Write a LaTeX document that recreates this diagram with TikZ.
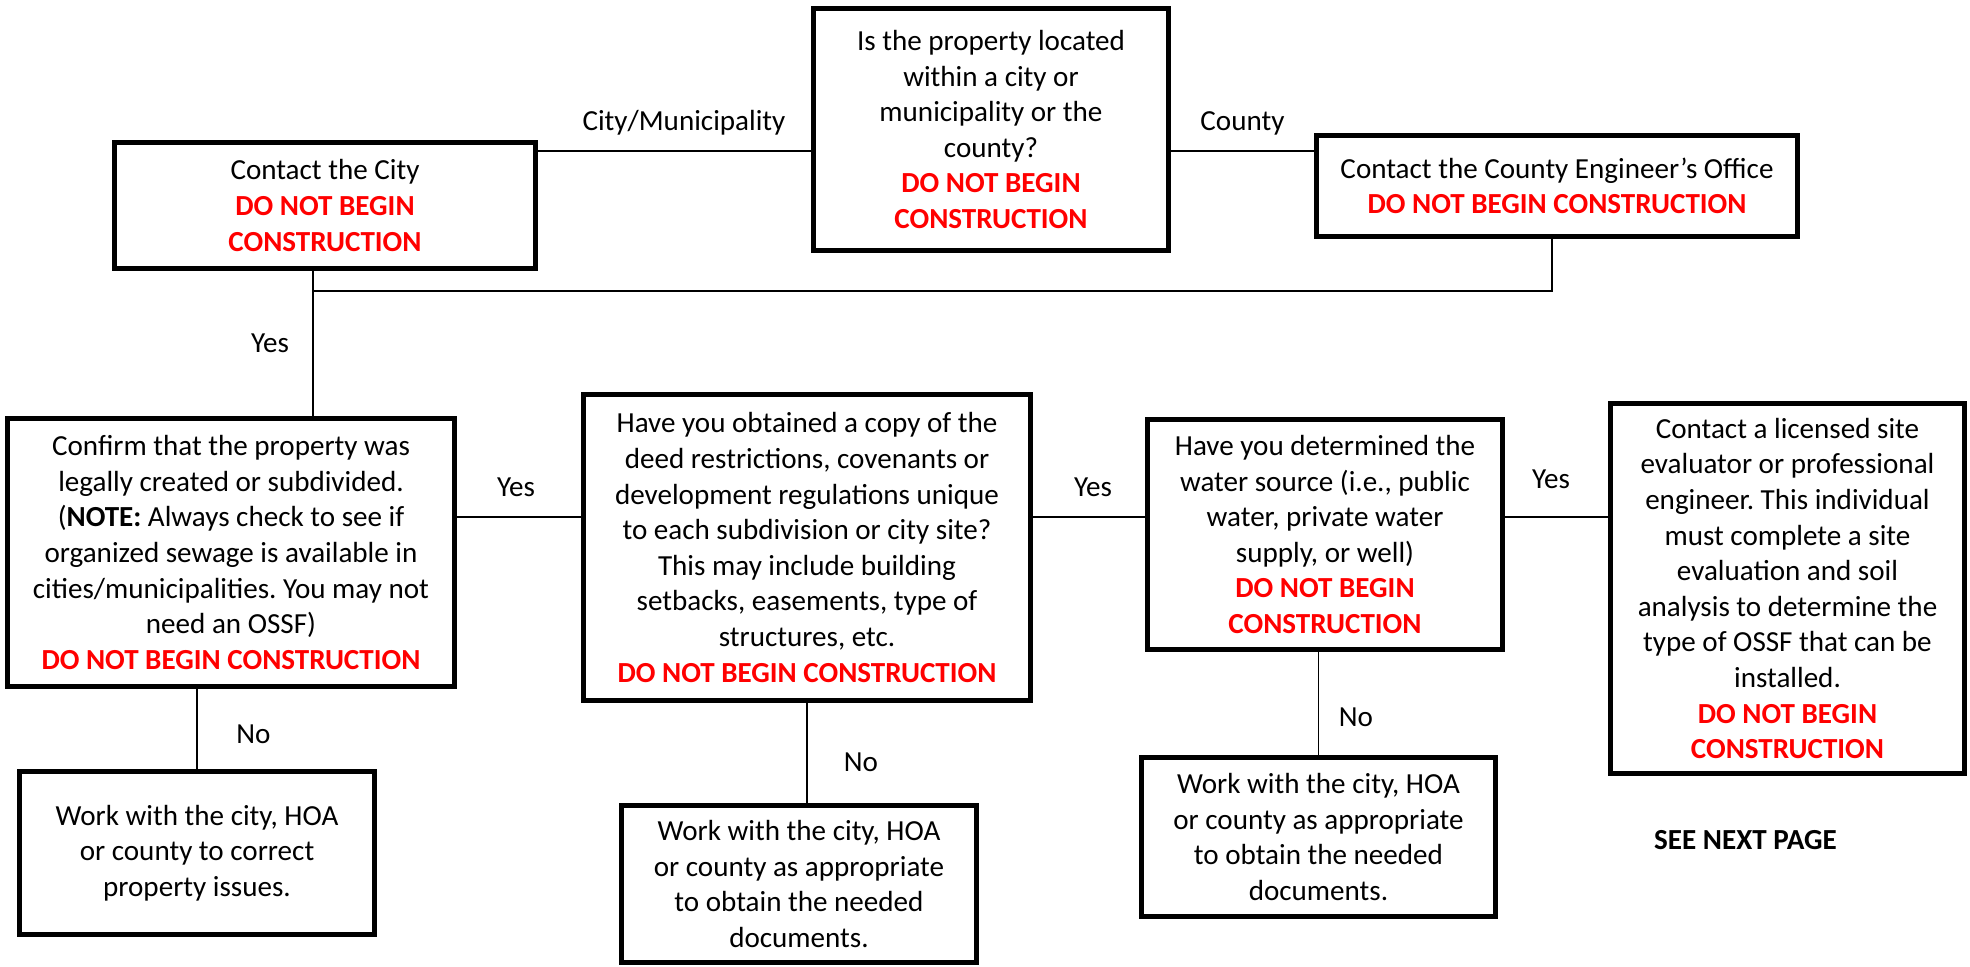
\documentclass[tikz,border=0pt]{standalone}
\usepackage{fontspec}
\setmainfont{Carlito}
\frenchspacing
\definecolor{warnred}{RGB}{255,0,0}
\newcommand\warn[1]{{\color{warnred}\bfseries #1}}
\begin{document}
\begin{tikzpicture}[x=0.385pt,y=-0.385pt,
  every node/.style={font=\fontsize{11.2pt}{13.72pt}\selectfont},
  bx/.style n args={2}{draw=black,line width=1.92pt,align=center,inner sep=0pt,
     minimum width=#1*0.385pt,minimum height=#2*0.385pt},
  conn/.style={line width=0.6pt,draw=black},
  lbl/.style={inner sep=0pt}]
\useasboundingbox (0,0) rectangle (1970,967);
% boxes
\node[bx={355}{242}] (q) at (991,129.5) {Is the property located\\within a city or\\municipality or the\\county?\\\warn{DO NOT BEGIN}\\\warn{CONSTRUCTION}};
\node[bx={421}{126}] (city) at (325,205.5) {Contact the City\\\warn{DO NOT BEGIN}\\\warn{CONSTRUCTION}};
\node[bx={481}{101}] (county) at (1557,186) {Contact the County Engineer’s Office\\\warn{DO NOT BEGIN CONSTRUCTION}};
\node[bx={447}{268}] (confirm) at (231,552.5) {Confirm that the property was\\legally created or subdivided.\\(\textbf{NOTE:} Always check to see if\\organized sewage is available in\\cities/municipalities. You may not\\need an OSSF)\\\warn{DO NOT BEGIN CONSTRUCTION}};
\node[bx={447}{306}] (deed) at (807,547.5) {Have you obtained a copy of the\\deed restrictions, covenants or\\development regulations unique\\to each subdivision or city site?\\This may include building\\setbacks, easements, type of\\structures, etc.\\\warn{DO NOT BEGIN CONSTRUCTION}};
\node[bx={355}{230}] (water) at (1325,534.5) {Have you determined the\\water source (i.e., public\\water, private water\\supply, or well)\\\warn{DO NOT BEGIN}\\\warn{CONSTRUCTION}};
\node[bx={354}{370}] (lic) at (1787.5,588.5) {Contact a licensed site\\evaluator or professional\\engineer. This individual\\must complete a site\\evaluation and soil\\analysis to determine the\\type of OSSF that can be\\installed.\\\warn{DO NOT BEGIN}\\\warn{CONSTRUCTION}};
\node[bx={355}{163}] (work1) at (197,853) {Work with the city, HOA\\or county to correct\\property issues.};
\node[bx={355}{157}] (work2) at (799,884) {Work with the city, HOA\\or county as appropriate\\to obtain the needed\\documents.};
\node[bx={354}{159}] (work3) at (1318.5,837) {Work with the city, HOA\\or county as appropriate\\to obtain the needed\\documents.};
\node[lbl,font=\fontsize{11.2pt}{13.72pt}\selectfont\bfseries] (next) at (1745.5,840) {SEE NEXT PAGE};
% labels
\node[lbl] (lcity) at (684,123) {City/Municipality};
\node[lbl] (lcounty) at (1242.5,123) {County};
\node[lbl] (lyes0) at (270,343) {Yes};
\node[lbl] (lyes1) at (516,487) {Yes};
\node[lbl] (lyes2) at (1093,487) {Yes};
\node[lbl] (lyes3) at (1551,479) {Yes};
\node[lbl] (lno1) at (253.5,734) {No};
\node[lbl] (lno2) at (861,762) {No};
\node[lbl] (lno3) at (1356,717) {No};
% connector helpers
\coordinate (m1) at (0,151);
\coordinate (m2) at (0,517);
\coordinate (j1) at (313,291);
\coordinate (j2) at (1552,291);
% connectors
\draw[conn] (city.east |- m1) -- (q.west |- m1);
\draw[conn] (q.east |- m1) -- (county.west |- m1);
\draw[conn] (city.south -| j1) -- (confirm.north -| j1);
\draw[conn] (j1) -- (j2) -- (county.south -| j2);
\draw[conn] (confirm.east |- m2) -- (deed.west |- m2);
\draw[conn] (deed.east |- m2) -- (water.west |- m2);
\draw[conn] (water.east |- m2) -- (lic.west |- m2);
\draw[conn] (work1.north) -- (work1.north |- confirm.south);
\draw[conn] (deed.south) -- (deed.south |- work2.north);
\draw[conn] (work3.north) -- (work3.north |- water.south);
\end{tikzpicture}
\end{document}
